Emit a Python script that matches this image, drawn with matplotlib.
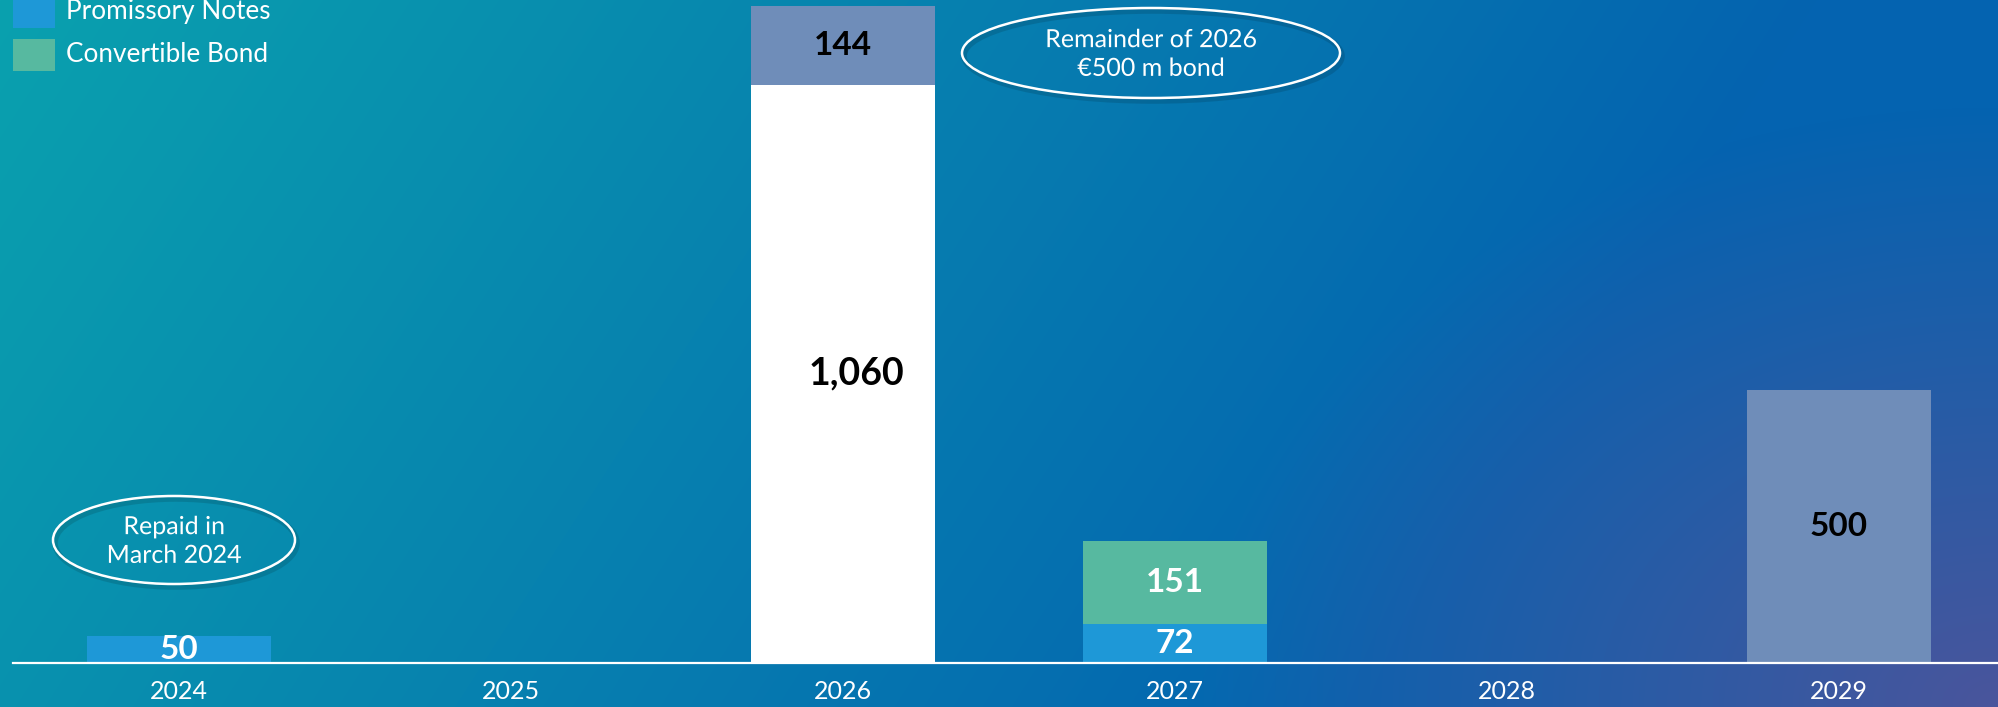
import numpy as np
import matplotlib
matplotlib.use("Agg")
import matplotlib.pyplot as plt
from matplotlib.patches import Ellipse, Rectangle
import matplotlib.patheffects as pe

# ---- data ----
years = ["2024", "2025", "2026", "2027", "2028", "2029"]
promissory_notes = [50, 0, 0, 72, 0, 0]
convertible_bond = [0, 0, 0, 151, 0, 0]
refinanced = [0, 0, 1060, 0, 0, 0]
bonds = [0, 0, 144, 0, 0, 500]
legend_labels = ["Promissory Notes", "Convertible Bond"]
note_2024 = "Repaid in\nMarch 2024"
note_2026 = "Remainder of 2026\n€500 m bond"

C_PN = "#1E98D7"
C_CB = "#57B9A0"
C_BOND = "#6F8DB9"
C_WHITE = "#FFFFFF"

W, H = 1998, 707
DPI = 100
plt.rcParams['font.family'] = ['Lato', 'DejaVu Sans']

fig = plt.figure(figsize=(W / DPI, H / DPI), dpi=DPI)

# ---- background gradient ----
bg = fig.add_axes([0, 0, 1, 1], zorder=-10)
yy, xx = np.mgrid[0:H, 0:W]
t = np.clip(xx / W * 1.1 + yy / H * 0.25, 0, 1)
teal = np.array([0x0A, 0xA1, 0xAE]) / 255
blue = np.array([0x04, 0x63, 0xB0]) / 255
purple = np.array([0x4A, 0x55, 0x9C]) / 255
img = teal[None, None, :] * (1 - t[..., None]) + blue[None, None, :] * t[..., None]
d = np.sqrt(((W - xx) / 800.0) ** 2 + ((H - yy) / 600.0) ** 2)
w = np.clip(1 - d, 0, 1)
img = img * (1 - w[..., None]) + purple[None, None, :] * w[..., None]
bg.imshow(img, aspect='auto', extent=[0, 1, 0, 1], origin='upper')
bg.set_axis_off()

# ---- main axes ----
left = 13 / W
right = 2005 / W
bottom = 44 / H
top = 701 / H
ax = fig.add_axes([left, bottom, right - left, top - bottom])
ax.patch.set_alpha(0)

x = np.arange(len(years))
bw = 0.557
pn = np.array(promissory_notes)
cb = np.array(convertible_bond)
rf = np.array(refinanced)
bd = np.array(bonds)

bars_pn = ax.bar(x, pn, bw, color=C_PN, zorder=3)
bars_cb = ax.bar(x, cb, bw, bottom=pn, color=C_CB, zorder=3)
bars_rf = ax.bar(x, rf, bw, bottom=pn + cb, color=C_WHITE, zorder=3)
bars_bd = ax.bar(x, bd, bw, bottom=pn + cb + rf, color=C_BOND, zorder=3)

def label(bars, vals, color, size=24, dx=0):
    for r, v in zip(bars, vals):
        if v <= 0:
            continue
        ax.annotate(f"{v:,}",
                    (r.get_x() + r.get_width() / 2, r.get_y() + r.get_height() / 2),
                    xytext=(dx, 0), textcoords='offset points',
                    ha='center', va='center', color=color,
                    fontsize=size, fontweight='bold', zorder=5)

label(bars_pn, pn, "white")
label(bars_cb, cb, "white")
label(bars_rf, rf, "black", size=27, dx=10)
label(bars_bd, bd, "black")

ax.set_xlim(-0.5, len(years) - 0.5)
ax.set_ylim(0, 1204)
ax.set_xticks(x)
ax.set_xticklabels(years, color='white', fontsize=18)
ax.tick_params(axis='x', length=0, pad=12)
ax.set_yticks([])
for s in ['top', 'right', 'left']:
    ax.spines[s].set_visible(False)
ax.spines['bottom'].set_color('white')
ax.spines['bottom'].set_linewidth(1.6)
ax.spines['bottom'].set_zorder(6)

# ---- legend (manual, figure pixel coordinates) ----
def fx(px):
    return px / W

def fy(py):
    return 1 - py / H

for i, (lab, col) in enumerate(zip(legend_labels, [C_PN, C_CB])):
    cy = 12 + 43 * i
    fig.add_artist(Rectangle((fx(13), fy(cy + 16)), 42 / W, 32 / H,
                             transform=fig.transFigure, color=col, lw=0))
    fig.text(fx(66), fy(cy), lab, color='white', fontsize=18.8,
             ha='left', va='center')

# ---- ellipse annotations ----
def note(cx, cy, ew, eh, txt):
    sh = Ellipse((fx(cx + 2), fy(cy + 3)), ew / W, eh / H, transform=fig.transFigure,
                 facecolor='none', edgecolor='black', lw=4, alpha=0.12, zorder=7)
    fig.add_artist(sh)
    e = Ellipse((fx(cx), fy(cy)), ew / W, eh / H, transform=fig.transFigure,
                facecolor='none', edgecolor='white', lw=1.8, zorder=8)
    fig.add_artist(e)
    fig.text(fx(cx), fy(cy + 1), txt, color='white', fontsize=18,
             ha='center', va='center', linespacing=1.3, zorder=9,
             path_effects=[pe.SimpleLineShadow(offset=(1.5, -1.5), alpha=0.2),
                           pe.Normal()])

note(174, 540, 242, 88, note_2024)
note(1151, 53, 378, 90, note_2026)

fig.savefig("out.png", dpi=DPI)
